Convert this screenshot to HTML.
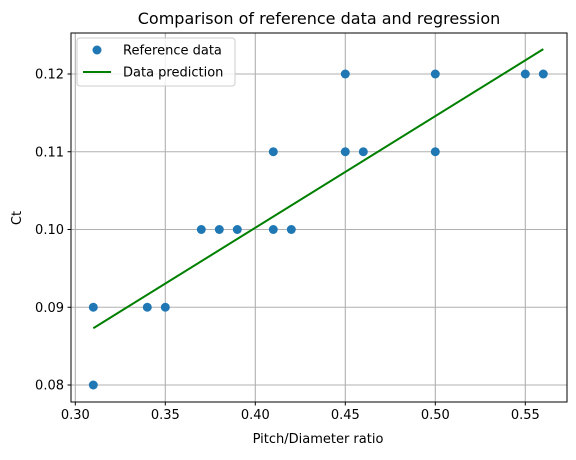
<!DOCTYPE html>
<html><head><meta charset="utf-8"><style>body{margin:0;background:#fff}svg{font-family:"DejaVu Sans","Liberation Sans",sans-serif}</style></head>
<body>
<svg width="576" height="455">
<g id="grid"></g>
<g id="marks"></g>
<rect x="71" y="33" width="496" height="369" fill="none" stroke="#000" stroke-width="1"/>
<g id="ticks" font-size="13" fill="#000"></g>
<text x="319" y="24" text-anchor="middle" font-size="16">Comparison of reference data and regression</text>
<text x="318" y="443" text-anchor="middle" font-size="13">Pitch/Diameter  ratio</text>
<text x="0" y="0" transform="translate(21,218) rotate(-90)" text-anchor="middle" font-size="13">Ct</text>
<g>
<rect x="77" y="38" width="158" height="48" rx="3" fill="#fff" fill-opacity="0.8" stroke="#ccc"/>
<g><circle cx="97" cy="50" r="4.5" fill="#1f77b4"/><text x="123" y="54.5" font-size="13">Reference data</text></g>
<g><line x1="83" y1="72" x2="111" y2="72" stroke="green" stroke-width="2"/><text x="123" y="76.5" font-size="13">Data prediction</text></g>
</g>
</svg>
<script>
const xs=[0.31,0.31,0.34,0.35,0.37,0.38,0.39,0.41,0.41,0.42,0.45,0.45,0.46,0.50,0.50,0.55,0.56];
const ys=[0.08,0.09,0.09,0.09,0.10,0.10,0.10,0.10,0.11,0.10,0.11,0.12,0.11,0.12,0.11,0.12,0.12];
const lineX=[0.31,0.56];
const lineY=[0.0873,0.1232];
const xTicks=[0.30,0.35,0.40,0.45,0.50,0.55];
const yTicks=[0.08,0.09,0.10,0.11,0.12];
const X=v=>75.3+(v-0.30)*1800;
const Y=v=>385-(v-0.08)*7775;
const NS='http://www.w3.org/2000/svg';
function mk(t,a,p){const e=document.createElementNS(NS,t);for(const k in a)e.setAttribute(k,a[k]);p.appendChild(e);return e;}
const g=document.getElementById('grid'),m=document.getElementById('marks'),tk=document.getElementById('ticks');
xTicks.forEach(v=>{const l=mk('line',{x1:X(v),x2:X(v),y1:33,y2:402,stroke:'#b0b0b0','stroke-width':1.1},g);


mk('line',{x1:X(v),x2:X(v),y1:402,y2:405.5,stroke:'#000'},tk);
const t=mk('text',{x:X(v),y:419,'text-anchor':'middle'},tk);t.textContent=v.toFixed(2);

});
yTicks.forEach(v=>{const l=mk('line',{x1:71,x2:567,y1:Y(v),y2:Y(v),stroke:'#b0b0b0','stroke-width':1.1},g);


mk('line',{x1:67.5,x2:71,y1:Y(v),y2:Y(v),stroke:'#000'},tk);
const t=mk('text',{x:64,y:Y(v)+4.5,'text-anchor':'end'},tk);t.textContent=v.toFixed(2);

});
xs.forEach((v,i)=>{const c=mk('circle',{cx:X(v),cy:Y(ys[i]),r:4.5,fill:'#1f77b4'},m);

});
const ln=mk('line',{x1:X(lineX[0]),y1:Y(lineY[0]),x2:X(lineX[1]),y2:Y(lineY[1]),stroke:'green','stroke-width':2},m);


</script>
</body></html>
